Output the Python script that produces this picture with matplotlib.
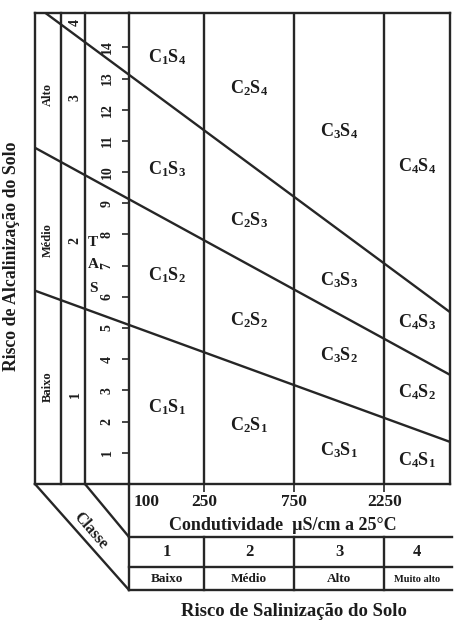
import numpy as np
import matplotlib
matplotlib.use('Agg')
import matplotlib.pyplot as plt
from matplotlib.transforms import blended_transform_factory, ScaledTranslation
from matplotlib.patches import Rectangle

plt.rcParams['font.family'] = ['Liberation Serif', 'DejaVu Serif']
plt.rcParams['font.weight'] = 'bold'
plt.rcParams['mathtext.fontset'] = 'custom'
plt.rcParams['mathtext.rm'] = 'Liberation Serif:bold'
plt.rcParams['mathtext.it'] = 'Liberation Serif:bold'
plt.rcParams['mathtext.bf'] = 'Liberation Serif:bold'

# ---------------- data ----------------
ec_bounds = [100, 250, 750, 2250, 5000]          # salinity class limits (uS/cm)
ec_ticks = [100, 250, 750, 2250]
ec_tick_labels = ['100', '250', '750', '2250']
sar_ticks = list(range(1, 15))
sar_max = 15.1
line_ec = [100, 5000]                              # boundary lines, SAR at these EC
s1s2 = [5.10, 1.35]
s2s3 = [9.13, 3.50]
s3s4 = [13.12, 5.51]
salinity_classes = ['1', '2', '3', '4']
salinity_names = ['Baixo', 'Médio', 'Alto', 'Muito alto']
sodium_names = ['Alto', 'Médio', 'Baixo']
sodium_classes = ['4', '3', '2', '1']
# SAR position of the cell labels, per salinity column (S1..S4)
cell_sar = [
    [2.45, 6.70, 10.10, 13.70],
    [1.90, 5.25, 8.45, 12.70],
    [1.10, 4.13, 6.55, 11.30],
    [0.78, 2.95, 5.20, 10.20],
]

W, H = 454, 621
LC = '#262626'
TC = '#1c1c1c'
LW = 1.7

fig = plt.figure(figsize=(W / 100, H / 100), dpi=100)
fig.patch.set_facecolor('white')

# overlay in pixel coordinates for the frame decoration
ov = fig.add_axes([0, 0, 1, 1])
ov.set_xlim(0, W)
ov.set_ylim(H, 0)
ov.axis('off')

L, R, T, B = 129, 450, 13, 484
ax = fig.add_axes([L / W, (H - B) / H, (R - L) / W, (B - T) / H])
ax.set_facecolor('none')
ax.set_xscale('log')
ax.set_xlim(ec_bounds[0], ec_bounds[-1])
ax.set_ylim(0, sar_max)
for s in ax.spines.values():
    s.set_linewidth(LW)
    s.set_color(LC)

# class boundaries (vertical)
for b in ec_bounds[1:-1]:
    ax.axvline(b, color=LC, lw=LW)

# clip region covering main plot and left class panel
clip = Rectangle((35, T), R - 35, B - T, transform=ov.transData, fill=False, visible=False)
ov.add_patch(clip)

ec_line = np.array([20.0, 5000.0])
for sg in (s1s2, s2s3, s3s4):
    lx = np.log10(line_ec)
    slope = (sg[1] - sg[0]) / (lx[1] - lx[0])
    yv = sg[0] + slope * (np.log10(ec_line) - lx[0])
    ln, = ax.plot(ec_line, yv, color=LC, lw=LW, clip_on=True)
    ln.set_clip_path(clip)

# cell labels
for i in range(4):
    xc = np.sqrt(ec_bounds[i] * ec_bounds[i + 1])
    for j in range(4):
        ax.text(xc, cell_sar[i][j], f'C$_{i+1}$S$_{j+1}$', ha='center', va='center',
                fontsize=13, color=TC, fontweight='bold')

# y ticks (TAS)
ax.set_yticks(sar_ticks)
ax.set_yticklabels([str(t) for t in sar_ticks])
ax.tick_params(axis='y', direction='out', length=5, width=1.2, color=LC,
               labelsize=10, pad=6, labelrotation=90, labelcolor=TC)
for lab in ax.get_yticklabels():
    lab.set_va('center')
    lab.set_fontweight('bold')

# x ticks
ax.set_xticks(ec_ticks)
ax.set_xticklabels(ec_tick_labels)
ax.xaxis.set_minor_locator(matplotlib.ticker.NullLocator())
ax.tick_params(axis='x', direction='out', length=6, width=1.2, color=LC,
               labelsize=12.5, pad=1, labelcolor=TC)
xl = ax.get_xticklabels()
for lab in xl:
    lab.set_fontweight('bold')
xl[0].set_ha('left')
xl[0].set_transform(xl[0].get_transform() + ScaledTranslation(5 / 100, 0, fig.dpi_scale_trans))

# ---- left class panel ----
def seg(x0, y0, x1, y1):
    ov.plot([x0, x1], [y0, y1], color=LC, lw=LW, solid_capstyle='projecting')

seg(35, T, L, T)
seg(35, B, L, B)
for xv in (35, 61, 85):
    seg(xv, T, xv, B)
seg(35, B, L, 590)
seg(85, B, L, 537)
ov.text(90, 531, 'Classe', rotation=-49, ha='center', va='center', fontsize=11.5, color=TC)

for name, yy in zip(sodium_names, [95, 240, 387]):
    ov.text(48, yy, name, rotation=90, ha='center', va='center', fontsize=9, color=TC)
for num, yy in zip(sodium_classes, [23, 98, 240, 395]):
    ov.text(75, yy, num, rotation=90, ha='center', va='center', fontsize=10, color=TC)
for ch, yy in zip('TAS', [242, 265, 288]):
    ov.text(93, yy, ch, ha='center', va='center', fontsize=11, color=TC)

ov.text(12, 256, 'Risco de Alcalinização do Solo', rotation=90, ha='center', va='center',
        fontsize=12.8, color=TC)

# ---- bottom salinity table ----
bt = blended_transform_factory(ax.transData, ov.transData)
seg(L, B, L, 590)
for yv in (537, 567, 590):
    seg(L, yv, 452, yv)
for b in ec_bounds[1:-1]:
    ov.plot([b, b], [537, 590], color=LC, lw=LW, transform=bt)
ov.text(283, 526, 'Condutividade  µS/cm a 25°C', ha='center', va='center', fontsize=13,
        color=TC)
for i in range(4):
    xc = np.sqrt(ec_bounds[i] * ec_bounds[i + 1])
    ov.text(xc, 552, salinity_classes[i], ha='center', va='center', fontsize=12,
            color=TC, transform=bt)
    ov.text(xc, 579, salinity_names[i], ha='center', va='center',
            fontsize=9.5 if i < 3 else 7.5, color=TC, transform=bt)

ov.text(294, 611, 'Risco de Salinização do Solo', ha='center', va='center', fontsize=13.5,
        color=TC)

fig.savefig('out.png', dpi=100)
